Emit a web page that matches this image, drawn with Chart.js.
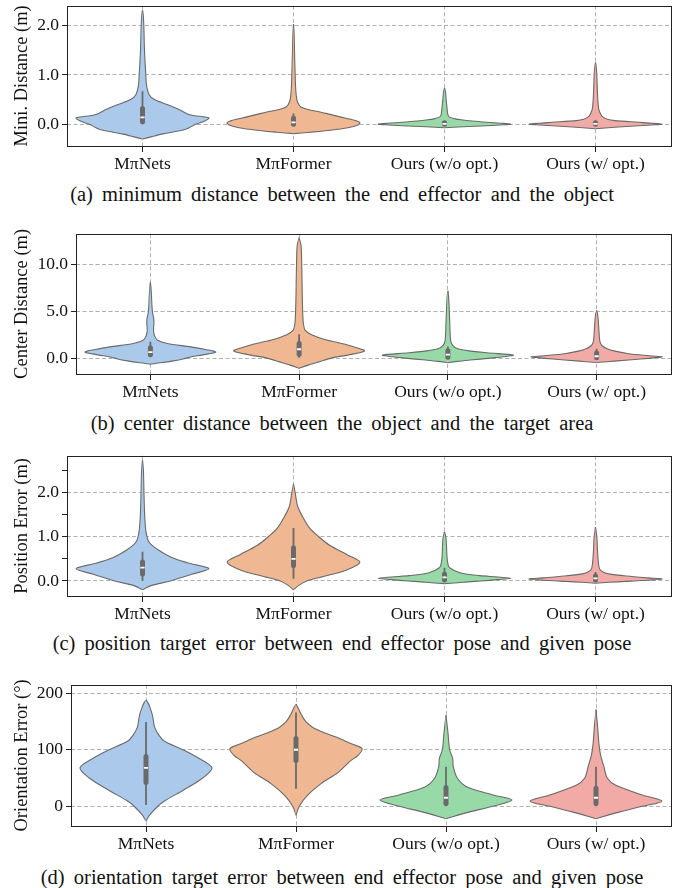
<!DOCTYPE html>
<html><head><meta charset="utf-8">
<script src="https://cdn.jsdelivr.net/npm/chart.js@4.4.0/dist/chart.umd.min.js"></script>
<style>
body{margin:0;background:#fff;width:684px;height:888px;position:relative;overflow:hidden;font-family:"Liberation Serif","Times New Roman",serif;}
.panel{position:absolute;left:0;width:684px;}
.cap{position:absolute;left:0;width:684px;text-align:center;font-family:"Liberation Serif";font-size:20.5px;color:#111;line-height:22px;white-space:nowrap;word-spacing:4.1px;}
</style></head><body>
<div class="panel" style="top:0px"><canvas id="ca" width="684" height="180"></canvas></div>
<div class="cap" style="top:183px">(a) minimum distance between the end effector and the object</div>
<div class="panel" style="top:228px"><canvas id="cb" width="684" height="180"></canvas></div>
<div class="cap" style="top:412px">(b) center distance between the object and the target area</div>
<div class="panel" style="top:450px"><canvas id="cc" width="684" height="180"></canvas></div>
<div class="cap" style="top:632px">(c) position target error between end effector pose and given pose</div>
<div class="panel" style="top:679px"><canvas id="cd" width="684" height="181"></canvas></div>
<div class="cap" style="top:866px">(d) orientation target error between end effector pose and given pose</div>
<script>
// ---------- DATA ----------
const categories = ['M\u03c0Nets', 'M\u03c0Former', 'Ours (w/o opt.)', 'Ours (w/ opt.)'];

// violin profiles: [value, relative density (0..1)]
const minDist_MPiNets = [[-0.30,0],[-0.25,0.14],[-0.20,0.29],[-0.10,0.65],[0.0,0.80],[0.05,0.91],[0.10,0.98],[0.13,1.0],[0.20,0.70],[0.30,0.55],[0.40,0.37],[0.50,0.18],[0.60,0.10],[0.80,0.06],[1.0,0.05],[1.5,0.03],[2.0,0.02],[2.2,0.012],[2.31,0]];
const minDist_MPiFormer = [[-0.19,0],[-0.16,0.25],[-0.12,0.55],[-0.07,0.82],[-0.02,0.96],[0.03,1.0],[0.08,0.92],[0.15,0.70],[0.20,0.55],[0.25,0.40],[0.30,0.22],[0.35,0.11],[0.45,0.06],[0.60,0.04],[0.80,0.03],[1.0,0.025],[1.5,0.015],[1.8,0.01],[2.03,0]];
const minDist_OursWo = [[-0.07,0],[-0.05,0.28],[-0.03,0.64],[-0.01,0.90],[0.0,1.0],[0.02,0.85],[0.04,0.64],[0.065,0.42],[0.087,0.28],[0.11,0.16],[0.15,0.07],[0.20,0.05],[0.30,0.04],[0.50,0.025],[0.65,0.015],[0.74,0]];
const minDist_OursW = [[-0.09,0],[-0.06,0.29],[-0.03,0.65],[-0.01,0.90],[0.0,1.0],[0.02,0.86],[0.04,0.65],[0.074,0.29],[0.10,0.18],[0.15,0.11],[0.20,0.08],[0.30,0.05],[0.50,0.035],[0.80,0.025],[1.0,0.02],[1.15,0.012],[1.25,0]];

const centerDist_MPiNets = [[-0.64,0],[-0.5,0.16],[-0.3,0.35],[-0.1,0.5],[0.1,0.6],[0.35,0.8],[0.64,1.0],[0.9,0.86],[1.2,0.62],[1.56,0.26],[1.9,0.11],[2.3,0.07],[2.8,0.05],[3.3,0.05],[3.8,0.055],[4.3,0.05],[4.8,0.035],[5.5,0.025],[6.5,0.018],[7.5,0.01],[8.1,0]];
const centerDist_MPiFormer = [[-1.1,0],[-0.75,0.14],[-0.4,0.3],[0.0,0.49],[0.4,0.8],[0.78,1.0],[1.1,0.88],[1.5,0.69],[2.0,0.39],[2.5,0.19],[3.0,0.09],[3.5,0.07],[4.0,0.06],[6.0,0.05],[8.0,0.045],[10.0,0.04],[12.0,0.03],[12.9,0]];
const centerDist_OursWo = [[-0.5,0],[-0.35,0.15],[-0.21,0.34],[0.0,0.65],[0.15,0.85],[0.32,1.0],[0.57,0.59],[0.8,0.3],[1.03,0.14],[1.4,0.07],[1.8,0.045],[2.5,0.035],[3.5,0.03],[5.0,0.022],[6.5,0.012],[7.2,0]];
const centerDist_OursW = [[-0.47,0],[-0.3,0.31],[-0.1,0.67],[0.05,0.9],[0.14,1.0],[0.3,0.72],[0.5,0.47],[0.75,0.28],[1.0,0.16],[1.3,0.09],[1.56,0.06],[2.0,0.045],[3.0,0.035],[4.0,0.025],[4.7,0.015],[5.1,0]];

const posErr_MPiNets = [[-0.2,0],[-0.1,0.14],[0.0,0.42],[0.15,0.74],[0.28,1.0],[0.4,0.7],[0.5,0.49],[0.6,0.35],[0.7,0.24],[0.8,0.15],[0.9,0.09],[1.05,0.06],[1.2,0.045],[1.5,0.032],[2.0,0.022],[2.5,0.014],[2.73,0]];
const posErr_MPiFormer = [[-0.2,0],[-0.1,0.08],[0.0,0.2],[0.1,0.45],[0.25,0.8],[0.43,1.0],[0.6,0.8],[0.8,0.55],[1.0,0.38],[1.2,0.24],[1.5,0.12],[1.7,0.06],[2.0,0.025],[2.19,0]];
const posErr_OursWo = [[-0.06,0],[-0.04,0.2],[-0.02,0.35],[0.0,0.55],[0.03,0.8],[0.06,1.0],[0.09,0.8],[0.12,0.53],[0.17,0.28],[0.25,0.13],[0.32,0.065],[0.5,0.04],[0.8,0.03],[1.0,0.02],[1.11,0]];
const posErr_OursW = [[-0.05,0],[-0.03,0.2],[-0.01,0.45],[0.01,0.7],[0.045,1.0],[0.07,0.8],[0.1,0.55],[0.16,0.2],[0.25,0.07],[0.4,0.045],[0.7,0.03],[1.0,0.02],[1.22,0]];

const oriErr_MPiNets = [[-26,0],[-15,0.06],[0,0.18],[10,0.29],[28,0.56],[50,0.86],[68,1.0],[85,0.8],[100,0.56],[115,0.28],[125,0.2],[140,0.13],[160,0.1],[175,0.06],[183,0.03],[188,0]];
const oriErr_MPiFormer = [[-16,0],[0,0.05],[20,0.18],[40,0.38],[60,0.64],[80,0.82],[90,0.94],[102,1.0],[110,0.85],[120,0.66],[130,0.43],[140,0.25],[150,0.15],[160,0.09],[170,0.05],[181,0]];
const oriErr_OursWo = [[-22,0],[-10,0.36],[0,0.71],[11,1.0],[20,0.71],[34,0.32],[50,0.17],[70,0.11],[85,0.1],[100,0.055],[130,0.03],[161,0]];
const oriErr_OursW = [[-22,0],[-10,0.36],[0,0.7],[9,1.0],[20,0.7],[37,0.3],[50,0.17],[70,0.12],[90,0.07],[110,0.045],[140,0.025],[171,0]];

// inner box stats: [whisker low, q1, median, q3, whisker high]
const minDistBoxes = [[0.0,0.05,0.14,0.32,0.67],[-0.01,0.0,0.04,0.12,0.22],[-0.01,0.0,0.01,0.03,0.06],[-0.01,0.0,0.01,0.03,0.07]];
const centerDistBoxes = [[0.12,0.35,0.65,1.1,1.75],[0.05,0.4,0.95,1.55,2.55],[0.0,0.1,0.38,0.8,1.25],[0.0,0.05,0.2,0.55,1.0]];
const posErrBoxes = [[0.0,0.16,0.3,0.43,0.66],[0.05,0.35,0.5,0.75,1.2],[0.0,0.02,0.08,0.15,0.3],[0.0,0.02,0.06,0.11,0.2]];
const oriErrBoxes = [[2,42,68,88,149],[31,81,100,120,166],[0,5,15,33,70],[0,5,15,32,70]];

// tick values
const minDistTicks = [0, 1, 2];
const centerDistTicks = [0, 5, 10];
const posErrTicks = [0, 1, 2];
const posErrMinorTicks = [0.5, 1.5, 2.5];
const oriErrTicks = [0, 100, 200];

// ---------- STYLE ----------
const FONT = '"Liberation Serif","Times New Roman",serif';
const fills = ['#abc9ea', '#efb792', '#98daa7', '#f2aaa7'];
const GRAY = '#6a6a6a';
const HALF = 0.44;

const frame = {
  id: 'frame',
  afterDatasetsDraw(chart) {
    const {ctx, chartArea: a} = chart;
    ctx.save();
    ctx.strokeStyle = '#222';
    ctx.lineWidth = 1;
    ctx.strokeRect(Math.round(a.left) + 0.5, Math.round(a.top) + 0.5, Math.round(a.right - a.left), Math.round(a.bottom - a.top));
    ctx.restore();
  }
};

function violinDatasets(profiles, boxes) {
  const ds = [];
  profiles.forEach((prof, i) => {
    [1, -1].forEach(side => {
      ds.push({
        indexAxis: 'y',
        data: prof.map(([v, w]) => ({x: i + side * w * HALF, y: v})),
        showLine: true,
        fill: {value: i - side * 0.004},
        backgroundColor: fills[i],
        borderColor: GRAY, borderWidth: 1.1, pointRadius: 0, tension: 0.3, order: 4
      });
    });
  });
  boxes.forEach((b, i) => {
    ds.push({data: [{x: i, y: b[0]}, {x: i, y: b[4]}], showLine: true, borderColor: GRAY, borderWidth: 1.8, pointRadius: 0, order: 3});
    ds.push({data: [{x: i, y: b[1]}, {x: i, y: b[3]}], showLine: true, borderColor: GRAY, borderWidth: 5, borderCapStyle: 'round', pointRadius: 0, order: 2});
    ds.push({data: [{x: i, y: b[2]}], showLine: false, pointStyle: 'line', pointRadius: 2.1,
      pointBorderColor: '#ffffff', pointBorderWidth: 1.8, order: 1});
  });
  return ds;
}

function makeChart(id, profiles, boxes, cfg) {
  const minor = cfg.minor || [];
  const allTicks = cfg.ticks.concat(minor).sort((a, b) => a - b);
  return new Chart(document.getElementById(id), {
    type: 'scatter',
    data: {datasets: violinDatasets(profiles, boxes)},
    options: {
      responsive: false, animation: false, devicePixelRatio: 1,
      layout: {padding: {top: cfg.top, right: 13, left: 0, bottom: 0}},
      plugins: {legend: {display: false}, tooltip: {enabled: false}},
      scales: {
        x: {
          type: 'linear', min: -0.5, max: 3.5,
          afterBuildTicks: s => { s.ticks = categories.map((c, i) => ({value: i})); },
          afterFit: s => { s.height = cfg.bottomH; s.paddingLeft = 0; s.paddingRight = 0; },
          ticks: {callback: v => categories[v], font: {family: FONT, size: 17.5}, color: '#111', padding: 2, maxRotation: 0, autoSkip: false},
          grid: {color: '#a8a8a8', lineWidth: 0.9, tickLength: 6, tickColor: '#222', tickWidth: 1},
          border: {display: false, dash: [4, 2.5]}
        },
        y: {
          type: 'linear', min: cfg.min, max: cfg.max,
          afterBuildTicks: s => { s.ticks = allTicks.map(v => ({value: v})); },
          afterFit: s => { s.width = cfg.left; s.paddingTop = 0; s.paddingBottom = 0; },
          ticks: {callback: v => minor.includes(v) ? '' : v.toFixed(cfg.dec), font: {family: FONT, size: 17.5}, color: '#111', padding: 3, autoSkip: false},
          grid: {color: c => (c.tick && minor.includes(c.tick.value)) ? 'rgba(0,0,0,0)' : '#a8a8a8', lineWidth: 0.9, tickLength: 5, tickColor: '#222', tickWidth: 1},
          border: {display: false, dash: [4, 2.5]},
          title: {display: true, text: cfg.title, font: {family: FONT, size: 18.5}, color: '#111', padding: {top: 11, bottom: 0}}
        }
      }
    },
    plugins: [frame]
  });
}

makeChart('ca', [minDist_MPiNets, minDist_MPiFormer, minDist_OursWo, minDist_OursW], minDistBoxes,
  {min: -0.44, max: 2.40, ticks: minDistTicks, dec: 1, title: 'Mini. Distance (m)', left: 67, top: 4.5, bottomH: 34});
makeChart('cb', [centerDist_MPiNets, centerDist_MPiFormer, centerDist_OursWo, centerDist_OursW], centerDistBoxes,
  {min: -1.7, max: 13.3, ticks: centerDistTicks, dec: 1, title: 'Center Distance (m)', left: 76, top: 5, bottomH: 34});
makeChart('cc', [posErr_MPiNets, posErr_MPiFormer, posErr_OursWo, posErr_OursW], posErrBoxes,
  {min: -0.34, max: 2.83, ticks: posErrTicks, minor: posErrMinorTicks, dec: 1, title: 'Position Error (m)', left: 67, top: 5, bottomH: 34});
makeChart('cd', [oriErr_MPiNets, oriErr_MPiFormer, oriErr_OursWo, oriErr_OursW], oriErrBoxes,
  {min: -35, max: 215, ticks: oriErrTicks, dec: 0, title: 'Orientation Error (\u00b0)', left: 71, top: 5, bottomH: 34});
</script>
</body></html>
